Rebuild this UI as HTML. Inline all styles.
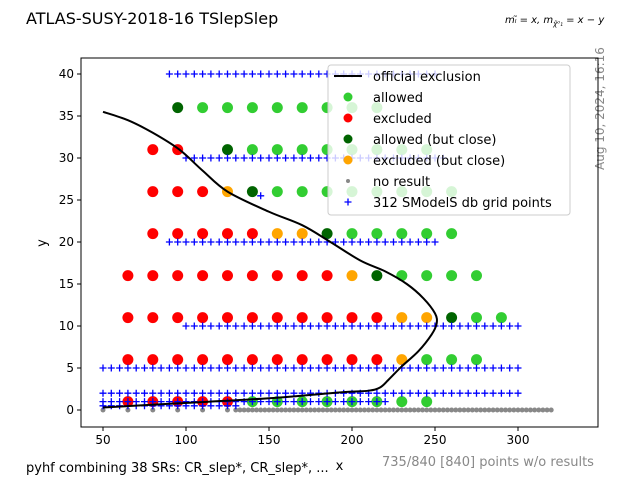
<!DOCTYPE html>
<html><head><meta charset="utf-8"><style>
body{margin:0;background:#fff;font-family:"Liberation Sans","DejaVu Sans",sans-serif}
svg text{font-family:"DejaVu Sans","Liberation Sans",sans-serif}
</style></head><body>
<svg id="chart" width="640" height="480" xmlns="http://www.w3.org/2000/svg">
<rect width="640" height="480" fill="#fff"/>
<text x="26" y="24" font-size="16">ATLAS-SUSY-2018-16 TSlepSlep</text>
<text x="505" y="23" font-size="10" font-style="italic">mₗ̃ = x, m<tspan font-size="7" dy="3">χ̃⁰₁</tspan><tspan dy="-3"> = x − y</tspan></text>
<text transform="translate(604,170) rotate(-90)" font-size="12" fill="#888">Aug 10, 2024, 16:16</text>
<text x="26" y="472" font-size="13">pyhf combining 38 SRs: CR_slep*, CR_slep*, ...</text>
<text x="382" y="466" font-size="13" fill="#888">735/840 [840] points w/o results</text>
<g id="axes"></g>
<g id="plot"></g>
<g id="legend"></g>
</svg>
<script>
const officialX=[50,65,80,96,110,125,150,170,187,205,220,233,243,250,251,248,240,230,222,217,210,193,150,96,50];
const officialY=[35.5,34.5,33,31,28.5,26,23.6,22,20,17.8,16.5,15,13.3,11.5,10.3,9,7,5.2,3.6,2.7,2.3,2.1,1.4,0.8,0.3];
const allowedPts=[[110,36],[125,36],[140,36],[155,36],[170,36],[185,36],[200,36],[215,36],[140,31],[155,31],[170,31],[185,31],[200,31],[215,31],[230,31],[245,31],[155,26],[170,26],[185,26],[200,26],[215,26],[230,26],[245,26],[260,26],[200,21],[215,21],[230,21],[245,21],[260,21],[230,16],[245,16],[260,16],[275,16],[275,11],[290,11],[245,6],[260,6],[275,6],[140,1],[155,1],[170,1],[185,1],[200,1],[215,1],[230,1],[245,1]];
const excludedPts=[[80,31],[95,31],[80,26],[95,26],[110,26],[80,21],[95,21],[110,21],[125,21],[140,21],[65,16],[80,16],[95,16],[110,16],[125,16],[140,16],[155,16],[170,16],[185,16],[65,11],[80,11],[95,11],[110,11],[125,11],[140,11],[155,11],[170,11],[185,11],[200,11],[215,11],[65,6],[80,6],[95,6],[110,6],[125,6],[140,6],[155,6],[170,6],[185,6],[200,6],[215,6],[65,1],[80,1],[95,1],[110,1],[125,1]];
const closeAllowedPts=[[95,36],[125,31],[140,26],[185,21],[215,16],[260,11]];
const closeExcludedPts=[[125,26],[155,21],[170,21],[200,16],[230,11],[245,11],[230,6]];
const gridRows=[[40,90,250],[30,100,255],[20,90,250],[10,100,300],[5,50,300],[2,50,300],[1,50,220],[0.5,50,130]];
const extraGrid=[[145,25.5]];
const noResultX=[50,65,80,95,110,125,130,132.5,135,137.5,140,142.5,145,147.5,150,152.5,155,157.5,160,162.5,165,167.5,170,172.5,175,177.5,180,182.5,185,187.5,190,192.5,195,197.5,200,202.5,205,207.5,210,212.5,215,217.5,220,222.5,225,227.5,230,232.5,235,237.5,240,242.5,245,247.5,250,252.5,255,257.5,260,262.5,265,267.5,270,272.5,275,277.5,280,282.5,285,287.5,290,292.5,295,297.5,300,302.5,305,307.5,310,312.5,315,317.5,320];
const xTicks=[50,100,150,200,250,300];
const yTicks=[0,5,10,15,20,25,30,35,40];

const NS="http://www.w3.org/2000/svg";
const L=81,R=598,T=58,B=427;
const sx=v=>20+v*1.66, sy=v=>410-v*8.4;
function mk(tag,attrs,parent){const e=document.createElementNS(NS,tag);for(const k in attrs)e.setAttribute(k,attrs[k]);parent.appendChild(e);return e;}
const ax=document.getElementById('axes'),pl=document.getElementById('plot'),lg=document.getElementById('legend');
xTicks.forEach(t=>{mk('line',{x1:sx(t),x2:sx(t),y1:B,y2:B+4,stroke:'#000'},ax);const tx=mk('text',{x:sx(t),y:B+17,'font-size':12,'text-anchor':'middle'},ax);tx.textContent=t;

});
yTicks.forEach(t=>{mk('line',{x1:L-4,x2:L,y1:sy(t),y2:sy(t),stroke:'#000'},ax);const tx=mk('text',{x:L-7,y:sy(t)+4,'font-size':12,'text-anchor':'end'},ax);tx.textContent=t;

});
let xl=mk('text',{x:(L+R)/2,y:470,'font-size':13,'text-anchor':'middle'},ax);xl.textContent='x';


let yl=mk('text',{transform:'translate(46,243) rotate(-90)','font-size':13,'text-anchor':'middle'},ax);yl.textContent='y';



function plus(x,y,p){return mk('path',{d:`M${x-3.5},${y}h7M${x},${y-3.5}v7`,stroke:'#00f','stroke-width':1.3},p);}
noResultX.forEach(x=>{const c=mk('circle',{cx:sx(x),cy:sy(0),r:2.5,fill:'#888'},pl);

});
function dots(arr,col,name){arr.forEach(p=>{const c=mk('circle',{cx:sx(p[0]),cy:sy(p[1]),r:5.5,fill:col},pl);

});}
dots(excludedPts,'#f00','excluded-point');
dots(allowedPts,'#32cd32','allowed-point');
dots(closeAllowedPts,'#006400','allowed-close-point');
dots(closeExcludedPts,'#ffa500','excluded-close-point');
gridRows.forEach(r=>{for(let x=r[1];x<=r[2];x+=5){const g=plus(sx(x),sy(r[0]),pl);

}});
extraGrid.forEach(p=>{const g=plus(sx(p[0]),sy(p[1]),pl);

});
// smooth Catmull-Rom path
const P=officialX.map((x,i)=>[sx(x),sy(officialY[i])]);
let d=`M${P[0][0]},${P[0][1]}`;
for(let i=0;i<P.length-1;i++){const p0=P[Math.max(0,i-1)],p1=P[i],p2=P[i+1],p3=P[Math.min(P.length-1,i+2)];
const c1=[p1[0]+(p2[0]-p0[0])/6,p1[1]+(p2[1]-p0[1])/6],c2=[p2[0]-(p3[0]-p1[0])/6,p2[1]-(p3[1]-p1[1])/6];
d+=` C${c1[0]},${c1[1]} ${c2[0]},${c2[1]} ${p2[0]},${p2[1]}`;}
const line=mk('path',{d:d,fill:'none',stroke:'#000','stroke-width':2},pl);


const frame=mk('rect',{x:L,y:T,width:R-L,height:B-T,fill:'none',stroke:'#000','stroke-width':1},ax);



const box=mk('rect',{x:328,y:65,width:242,height:150,rx:3,fill:'#fff','fill-opacity':0.8,stroke:'#ccc'},lg);


const entries=[['line','official exclusion'],['#32cd32','allowed'],['#f00','excluded'],['#006400','allowed (but close)'],['#ffa500','excluded (but close)'],['grey','no result'],['plus','312 SModelS db grid points']];
entries.forEach((e,i)=>{const y=76+i*21;const g=mk('g',{},lg);


if(e[0]==='line')mk('line',{x1:334,x2:362,y1:y,y2:y,stroke:'#000','stroke-width':2},g);
else if(e[0]==='plus')plus(348,y,g);
else if(e[0]==='grey')mk('circle',{cx:348,cy:y,r:2,fill:'#888'},g);
else mk('circle',{cx:348,cy:y,r:4.5,fill:e[0]},g);
const t=mk('text',{x:373,y:y+5,'font-size':13},g);t.textContent=e[1];});
</script>
</body></html>
